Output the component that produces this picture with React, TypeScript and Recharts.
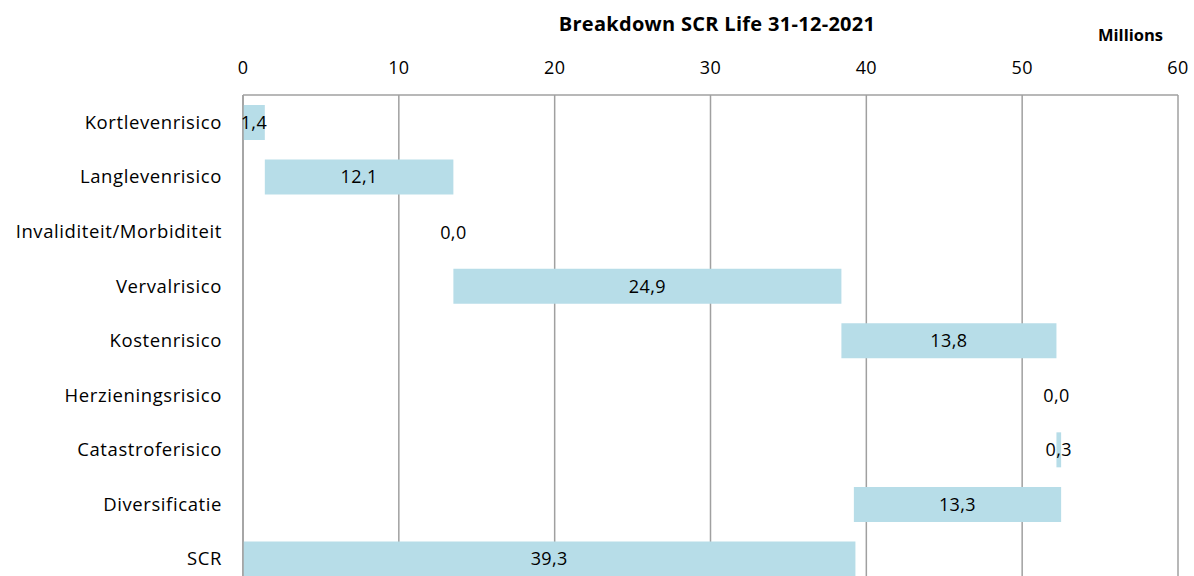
import { BarChart, Bar, XAxis, YAxis, CartesianGrid, LabelList } from "recharts";

const categories = [
  "Kortlevenrisico",
  "Langlevenrisico",
  "Invaliditeit/Morbiditeit",
  "Vervalrisico",
  "Kostenrisico",
  "Herzieningsrisico",
  "Catastroferisico",
  "Diversificatie",
  "SCR",
];
// invisible offset of each waterfall step
const baseValues = [0, 1.4, 13.5, 13.5, 38.4, 52.2, 52.2, 39.2, 0];
// visible step size
const stepValues = [1.4, 12.1, 0.0, 24.9, 13.8, 0.0, 0.3, 13.3, 39.3];
const xTicks = [0, 10, 20, 30, 40, 50, 60];

const data = categories.map((name, i) => ({
  name,
  base: baseValues[i],
  value: stepValues[i],
}));

const FONT = "'Open Sans', sans-serif";
const GRID = "#a0a0a0";
const numStyle = { fill: "#000", fontSize: 18, fontFamily: FONT, letterSpacing: 0.4 };
const catStyle = { fill: "#000", fontSize: 18.5, fontFamily: FONT, letterSpacing: 0.6 };

const fmt = (v: unknown) => Number(v).toFixed(1).replace(".", ",");

// zero-size steps draw no rect, so their label hangs off the end of the base bar
const ZeroLabel = (props: any) => {
  const { x, y, width, height, value } = props;
  if (Number(value) !== 0) return null;
  return (
    <text
      x={Number(x) + Number(width)}
      y={Number(y) + Number(height) / 2}
      textAnchor="middle"
      dominantBaseline="central"
      style={numStyle}
    >
      {fmt(value)}
    </text>
  );
};

export default function App() {
  return (
    <div
      style={{
        position: "fixed",
        top: 0,
        left: 0,
        width: 1194,
        height: 576,
        overflow: "hidden",
        background: "#fff",
        fontFamily: FONT,
      }}
    >
      <div
        style={{
          position: "absolute",
          left: 0,
          width: 1434,
          top: 10,
          textAlign: "center",
          fontWeight: 700,
          fontSize: 20,
          letterSpacing: 0.3,
          color: "#000",
        }}
      >
        Breakdown SCR Life 31-12-2021
      </div>
      <div
        style={{
          position: "absolute",
          left: 1098,
          top: 23,
          fontWeight: 700,
          fontSize: 16.5,
          color: "#000",
        }}
      >
        Millions
      </div>
      <BarChart
        width={1194}
        height={586}
        data={data}
        layout="vertical"
        margin={{ top: 0, right: 16, bottom: 0, left: 0 }}
        barSize={35}
      >
        <CartesianGrid horizontal={false} stroke={GRID} strokeWidth={1.5} />
        <XAxis
          type="number"
          orientation="top"
          domain={[0, 60]}
          ticks={xTicks}
          height={95}
          tickSize={0}
          tickMargin={21}
          axisLine={{ stroke: GRID, strokeWidth: 1.5 }}
          tickLine={false}
          tick={numStyle}
        />
        <YAxis
          type="category"
          dataKey="name"
          width={243}
          tickSize={0}
          tickMargin={21}
          axisLine={{ stroke: GRID, strokeWidth: 1.5 }}
          tickLine={false}
          interval={0}
          tick={catStyle}
        />
        <Bar dataKey="base" stackId="w" fill="transparent" isAnimationActive={false}>
          <LabelList dataKey="value" content={ZeroLabel} />
        </Bar>
        <Bar dataKey="value" stackId="w" fill="#b7dde8" isAnimationActive={false}>
          <LabelList
            dataKey="value"
            position="center"
            formatter={fmt}
            style={numStyle}
          />
        </Bar>
      </BarChart>
    </div>
  );
}
